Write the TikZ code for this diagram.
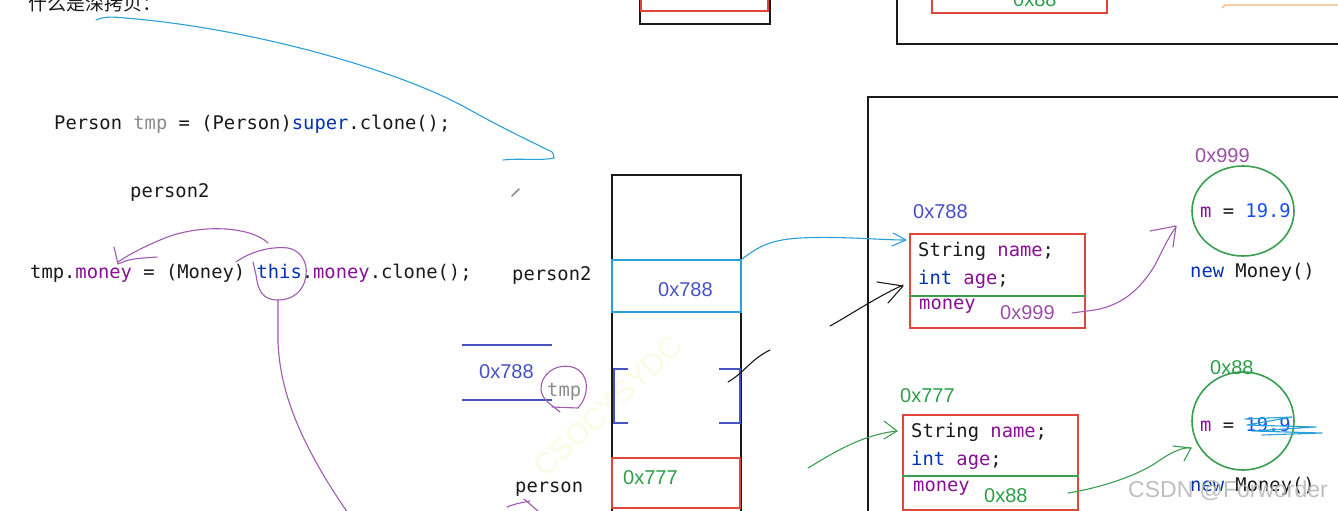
\documentclass[tikz,border=0pt]{standalone}
\usepackage{fontspec}
\setmainfont{Liberation Sans}
\setmonofont{DejaVu Sans Mono}
\newfontfamily\cjk{Noto Sans CJK SC}
\usetikzlibrary{shapes.geometric}
\definecolor{kw}{HTML}{0033B3}
\definecolor{fld}{HTML}{871094}
\definecolor{gry}{HTML}{8C8C8C}
\definecolor{num}{HTML}{1750EB}
\definecolor{hexblue}{HTML}{4652C4}
\definecolor{hexgreen}{HTML}{2E9E4A}
\definecolor{hexpurple}{HTML}{9A4EA6}
\definecolor{boxred}{HTML}{E0463C}
\definecolor{lblue}{HTML}{2A9FD8}
\definecolor{hpurple}{HTML}{A05AB0}
\definecolor{hgreen}{HTML}{3A9E50}
\definecolor{orng}{HTML}{F2B374}
\definecolor{ink}{HTML}{1A1A1A}
\definecolor{wm}{HTML}{B8B8B8}
\definecolor{wmy}{HTML}{FBFBE4}
\begin{document}
\begin{tikzpicture}[x=1pt,y=-1pt,
  code/.style={font=\fontsize{18.8}{20}\ttfamily, inner sep=0pt, anchor=base west, text=ink},
  hex/.style={font=\fontsize{20}{22}\selectfont, inner sep=0pt, anchor=base west},
  hand/.style={line width=1.1pt, line cap=round, line join=round},
  slot/.style={draw, line width=2pt, inner sep=0pt},
  money/.style={draw=hgreen, line width=1.6pt, ellipse, inner sep=0pt}]
\useasboundingbox (0,0) rectangle (1338,511);
\clip (0,0) rectangle (1338,511);
\fill[white] (0,0) rectangle (1338,511);

% watermark (faint)
\node[font=\fontsize{30}{32}\selectfont, text=wmy, rotate=43] (wmark) at (608,406) {CSOCYSYDC};

% title
\node[font=\cjk\fontsize{19}{21}\selectfont, inner sep=0pt, anchor=base west, text=ink] (title) at (28,11) {什么是深拷贝：};

% top fragments
\draw[ink, line width=1.8pt] (640,-5) -- (640,24) -- (770,24) -- (770,-5);
\draw[boxred, line width=1.8pt] (641,-5) rectangle (768,11);
\draw[ink, line width=1.8pt] (897,-5) -- (897,44) -- (1345,44);
\draw[boxred, line width=1.8pt] (932,-5) rectangle (1107,13);
\node[hex, text=hexgreen] (topx) at (1013,7) {0x88};
\draw[orng, line width=1.3pt] (1222,8) -- (1225,5) -- (1345,5);

% code
\node[code] (l1) at (54,129) {Person \textcolor{gry}{tmp} = (Person)\textcolor{kw}{super}.clone();};
\node[code] (l2) at (130,197) {person2};
\node[code] (l3) at (30,278) {tmp.\textcolor{fld}{money} = (Money) \textcolor{kw}{this}.\textcolor{fld}{money}.clone();};

% pencil icon
\draw[gry, line width=1.6pt, line cap=round] (512,196) -- (519,189);

% blue hand arrow from title
\coordinate (bstart) at (96,20);
\coordinate (bend) at (554,158);
\draw[hand, lblue] (bstart) .. controls (105,16) and (115,17) .. (125,18)
  .. controls (250,28) and (400,70) .. (470,110)
  .. controls (510,132) and (532,142) .. (548,150) .. controls (553,152) .. (bend);
\draw[hand, lblue] (503,160) .. controls (520,158) and (540,161) .. (bend);

% purple strokes around code
\draw[hand, hpurple] (268,243) .. controls (250,226) and (200,224) .. (165,238)
  .. controls (145,246) and (128,255) .. (118,262);
\draw[hand, hpurple] (114,247) -- (118,264) .. controls (130,259) .. (157,257);
\draw[hand, hpurple] (236,262) .. controls (250,252) and (270,246) .. (288,248)
  .. controls (300,250) and (308,262) .. (306,275)
  .. controls (304,292) and (292,300) .. (278,300)
  .. controls (262,300) and (258,290) .. (256,275) -- (253,262);
\draw[hand, hpurple] (278,300) -- (278,343) .. controls (280,380) and (290,430) .. (350,516);

% stack
\draw[ink, line width=1.8pt] (612,520) -- (612,175) -- (741,175) -- (741,520);
\node[slot, draw=lblue, minimum width=129pt, minimum height=52pt] (p2slot) at (676.5,286) {};
\node[hex, text=hexblue] (p2val) at (658,296) {0x788};
\node[slot, draw=boxred, minimum width=128pt, minimum height=50pt] (pslot) at (676,483) {};
\node[hex, text=hexgreen] (pval) at (623,484) {0x777};
\draw[hexblue, line width=1.8pt] (628,369) -- (614,369) -- (614,423) -- (628,423);
\draw[hexblue, line width=1.8pt] (719,369) -- (740,369) -- (740,423) -- (719,423);
\coordinate (brk) at (728,382);

\node[code] (lp2) at (512,280) {person2};
\node[code] (lp) at (515,492) {person};
\draw[hexblue, line width=1.5pt] (462,345) -- (552,345);
\draw[hexblue, line width=1.5pt] (462,400) -- (552,400);
\node[hex, text=hexblue] (tval) at (479,378) {0x788};
\node[code, text=gry] (ltmp) at (547,396) {tmp};
\draw[hand, hpurple] (552,407) -- (578,408) .. controls (590,395) and (590,372) .. (572,367)
  .. controls (555,363) and (540,375) .. (541,390) .. controls (542,400) and (552,405) .. (560,412);
\draw[hand, hpurple] (507,507) .. controls (515,504) .. (530,501);
\draw[hand, hpurple] (524,499) -- (538,511);

% heap
\draw[ink, line width=1.8pt] (868,520) -- (868,97) -- (1345,97);

% object person2
\node[hex, text=hexblue] (a1) at (913,218) {0x788};
\node[slot, draw=boxred, minimum width=175pt, minimum height=94pt] (obj1) at (997.5,281) {};
\draw[hgreen, line width=1.6pt] (obj1.west |- 0,296) -- (obj1.east |- 0,296);
\node[code] (o1a) at (918,256) {String \textcolor{fld}{name};};
\node[code] (o1b) at (918,284) {\textcolor{kw}{int} \textcolor{fld}{age};};
\node[code, text=fld] (o1c) at (919,309) {money};
\node[hex, text=hexpurple] (o1d) at (1000,319) {0x999};

\node[money, minimum width=102pt, minimum height=90pt] (c1) at (1243,211) {};
\node[hex, text=hexpurple] (c1a) at (1195,162) {0x999};
\node[code] (c1m) at (1200,217) {\textcolor{fld}{m} = \textcolor{num}{19.9}};
\node[code] (c1n) at (1190,277) {\textcolor{kw}{new} Money()};

% object person
\node[hex, text=hexgreen] (a2) at (900,402) {0x777};
\node[slot, draw=boxred, minimum width=175pt, minimum height=95pt] (obj2) at (990.5,462.5) {};
\draw[hgreen, line width=1.6pt] (obj2.west |- 0,476) -- (obj2.east |- 0,476);
\node[code] (o2a) at (911,437) {String \textcolor{fld}{name};};
\node[code] (o2b) at (911,465) {\textcolor{kw}{int} \textcolor{fld}{age};};
\node[code, text=fld] (o2c) at (913,491) {money};
\node[hex, text=hexgreen] (o2d) at (984,502) {0x88};

\node[money, minimum width=102pt, minimum height=98pt] (c2) at (1243,421) {};
\node[hex, text=hexgreen] (c2a) at (1210,374) {0x88};
\node[code] (c2m) at (1200,431) {\textcolor{fld}{m} = \textcolor{num}{19.9}};
\draw[hand, lblue] (1245,419) -- (1292,417) -- (1247,425) -- (1316,427) -- (1252,431) -- (1322,433) -- (1262,435);
\node[code] (c2n) at (1190,491) {\textcolor{kw}{new} Money()};

% hand arrows
\draw[hand, lblue] (p2slot.north east) .. controls (755,250) and (765,240) .. (800,238)
  .. controls (840,236) and (880,240) .. (905,240);
\draw[hand, lblue] (893,233) -- (906,240) -- (892,246);
\draw[hand, ink] (brk) .. controls (745,372) and (750,360) .. (770,350);
\draw[hand, ink] (830,326) .. controls (855,312) and (875,298) .. (903,285);
\draw[hand, ink] (877,282) -- (903,286) -- (888,303);
\draw[hand, hgreen] (808,468) .. controls (830,455) and (860,435) .. (897,431);
\draw[hand, hgreen] (884,421) -- (897,431) -- (884,439);
\draw[hand, hpurple] (1072,313) -- (1087,311) .. controls (1120,308) and (1140,290) .. (1155,265)
  .. controls (1165,245) and (1170,235) .. (1176,227);
\draw[hand, hpurple] (1150,231) -- (1176,226) -- (1173,247);
\draw[hand, hgreen] (1068,493) .. controls (1100,488) and (1140,475) .. (1160,460)
  .. controls (1175,450) and (1185,447) .. (1191,448);
\draw[hand, hgreen] (1173,446) -- (1191,448) -- (1184,461);

% CSDN watermark
\node[font=\fontsize{23}{25}\selectfont, text=wm, inner sep=0pt, anchor=base west, opacity=0.9] (csdn) at (1128,497) {CSDN @Forworder};
\end{tikzpicture}
\end{document}
